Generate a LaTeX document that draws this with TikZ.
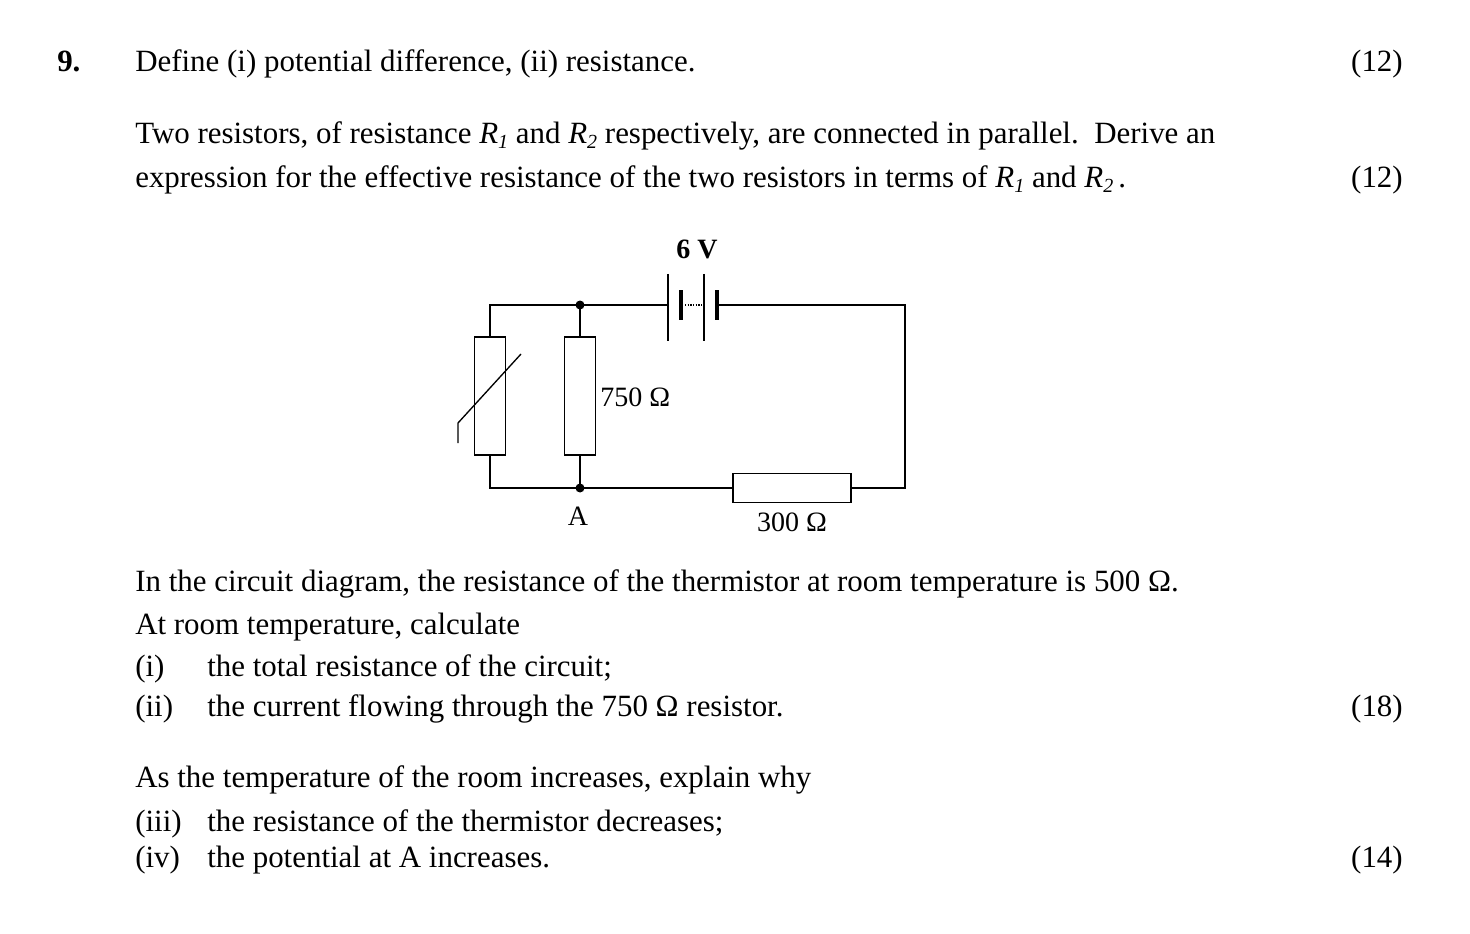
\documentclass[tikz,border=0pt]{standalone}
\usepackage{fontspec}
\setmainfont{Liberation Serif}
\newcommand{\Rs}[1]{\textit{R}\raisebox{-0.3ex}{\fontsize{15}{17}\selectfont\textit{#1}}}
\begin{document}
\begin{tikzpicture}[x=0.75pt,y=-0.75pt,
  txt/.style={anchor=base west,inner sep=0pt,font=\fontsize{23.2}{27}\selectfont},
  mk/.style={anchor=base east,inner sep=0pt,font=\fontsize{23.2}{27}\selectfont},
  lbl/.style={inner sep=0pt,font=\fontsize{21}{24}\selectfont},
  wire/.style={line width=1pt},
  res/.style={draw,line width=1pt,inner sep=0pt}]
\useasboundingbox (0,0) rectangle (1470,934);
\node[txt] (q) at (57,72) {\textbf{9.}};
\node[txt] (l1) at (135,72) {Define (i) potential difference, (ii) resistance.};
\node[mk] (m1) at (1403,72) {(12)};
\node[txt] (l2) at (135,144) {Two resistors, of resistance \Rs{1} and \Rs{2} respectively, are connected in parallel.\ \ Derive an};
\node[txt] (l3) at (135,188) {expression for the effective resistance of the two resistors in terms of \Rs{1} and \Rs{2}\,.};
\node[mk] (m2) at (1403,188) {(12)};
\node[txt] (l4) at (135,591) {In the circuit diagram, the resistance of the thermistor at room temperature is 500 Ω.};
\node[txt] (l5) at (135,634) {At room temperature, calculate};
\node[txt] (l6a) at (135,676) {(i)};
\node[txt] (l6) at (207,676) {the total resistance of the circuit;};
\node[txt] (l7a) at (135,716) {(ii)};
\node[txt] (l7) at (207,716) {the current flowing through the 750 Ω resistor.};
\node[mk] (m3) at (1403,716) {(18)};
\node[txt] (l8) at (135,787) {As the temperature of the room increases, explain why};
\node[txt] (l9a) at (135,831) {(iii)};
\node[txt] (l9) at (207,831) {the resistance of the thermistor decreases;};
\node[txt] (l10a) at (135,867) {(iv)};
\node[txt] (l10) at (207,867) {the potential at A increases.};
\node[mk] (m4) at (1403,867) {(14)};
% circuit
\coordinate (tl) at (490,305);
\coordinate (bl) at (490,488);
\coordinate (jt) at (580,305);
\coordinate (jb) at (580,488);
\coordinate (tr) at (905,305);
\coordinate (br) at (905,488);
\node[res,minimum width=31*0.75pt,minimum height=118*0.75pt] (th) at (490,396) {};
\node[res,minimum width=31*0.75pt,minimum height=118*0.75pt] (r750) at (580,396) {};
\node[res,minimum width=118*0.75pt,minimum height=29*0.75pt] (r300) at (792,488) {};
\draw[wire] (th.north) -- (tl) -- (jt) -- (r750.north);
\draw[wire] (th.south) -- (bl) -- (jb) -- (r750.south);
\draw[wire] (jb) -- (r300.west);
\draw[wire] (r300.east) -- (br) -- (tr) -- (717,305);
\draw[wire] (jt) -- (668,305);
\draw[wire] (668,274) -- (668,341);
\draw[line width=3.5pt] (681,290) -- (681,320);
\draw[wire,densely dotted] (685,305) -- (704,305);
\draw[wire] (704,274) -- (704,341);
\draw[line width=3.5pt] (717,290) -- (717,320);
\draw[wire] (458,443) -- (458,423) -- (521,354);
\fill (jt) circle (4.5);
\fill (jb) circle (4.5);
\node[lbl,font=\fontsize{21}{24}\selectfont\bfseries] (v) at (697,249) {6 V};
\node[lbl,anchor=west] (lr750) at (600,397) {750 Ω};
\node[lbl] (la) at (578,516) {A};
\node[lbl] (lr300) at (792,522) {300 Ω};
\end{tikzpicture}
\end{document}
